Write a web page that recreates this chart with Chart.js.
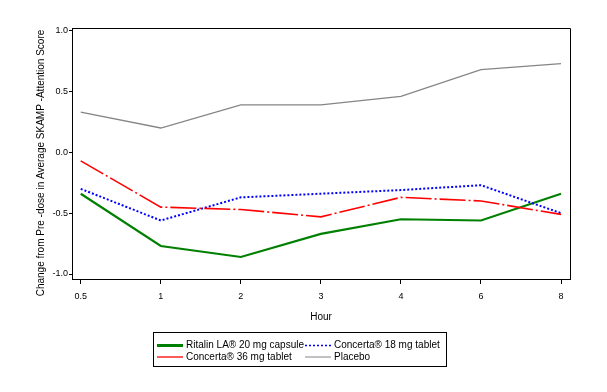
<!DOCTYPE html>
<html>
<head>
<meta charset="utf-8">
<script src="https://cdn.jsdelivr.net/npm/chart.js@4"></script>
<style>
  body { margin: 0; background: #fff; }
</style>
</head>
<body>
<canvas id="skampChart" width="607" height="392"></canvas>
<script>
// hours on the x axis (drawn evenly spaced)
const hours = ['0.5', '1', '2', '3', '4', '6', '8'];
const yTicks = [-1.0, -0.5, 0.0, 0.5, 1.0];

// change from pre-dose
const ritalin20 = [-0.34, -0.77, -0.86, -0.67, -0.55, -0.56, -0.34];
const concerta18 = [-0.30, -0.56, -0.37, -0.34, -0.31, -0.27, -0.50];
const concerta36 = [-0.07, -0.45, -0.47, -0.53, -0.37, -0.40, -0.51];
const placebo = [0.33, 0.20, 0.39, 0.39, 0.46, 0.68, 0.73];

const seriesNames = ['Ritalin LA\u00AE 20 mg capsule', 'Concerta\u00AE 18 mg tablet',
                     'Concerta\u00AE 36 mg tablet', 'Placebo'];
const yTitle = 'Change from Pre -dose in Average SKAMP -Attention Score';

const toPoints = arr => arr.map((v, i) => ({ x: i, y: v }));

const FONT = 'Liberation Sans, Arial, sans-serif';

// box round the plot, the y title (sits a bit low, like the original) and the legend box
const framePlugin = {
  id: 'frame',
  afterDraw(chart) {
    const { ctx, chartArea: a } = chart;
    ctx.save();
    ctx.strokeStyle = '#000';
    ctx.lineWidth = 1;
    ctx.beginPath();
    ctx.moveTo(a.left, a.top + 0.5);
    ctx.lineTo(a.right + 0.5, a.top + 0.5);
    ctx.lineTo(a.right + 0.5, a.bottom);
    ctx.stroke();

    // y axis title
    ctx.save();
    ctx.translate(41, 163);
    ctx.rotate(-Math.PI / 2);
    ctx.font = '10px ' + FONT;
    ctx.fillStyle = '#000';
    ctx.textAlign = 'center';
    ctx.textBaseline = 'middle';
    ctx.fillText(yTitle, 0, 0);
    ctx.restore();

    // legend
    ctx.strokeRect(153.5, 332.5, 293, 34);
    ctx.font = '10px ' + FONT;
    ctx.fillStyle = '#000';
    ctx.textBaseline = 'middle';
    const spots = [[157, 345.5], [305, 345.5], [157, 357], [305, 357]];
    const order = [3, 2, 1, 0]; // dataset index for each legend slot
    spots.forEach((p, k) => {
      const ds = chart.data.datasets[order[k]];
      ctx.save();
      ctx.strokeStyle = ds.borderColor;
      ctx.lineWidth = ds.legendWidth;
      ctx.setLineDash(ds.borderDash || []);
      ctx.beginPath();
      ctx.moveTo(p[0], p[1]);
      ctx.lineTo(p[0] + 26, p[1]);
      ctx.stroke();
      ctx.restore();
      ctx.fillText(ds.label, p[0] + 29, p[1]);
    });
    ctx.restore();
  }
};

const ctx = document.getElementById('skampChart').getContext('2d');

new Chart(ctx, {
  type: 'line',
  data: {
    datasets: [
      { label: seriesNames[3], data: toPoints(placebo), borderColor: '#858585',
        borderWidth: 1.3, legendWidth: 1 },
      { label: seriesNames[2], data: toPoints(concerta36), borderColor: '#ff0000',
        borderWidth: 1.6, borderDash: [26, 3, 2, 3], legendWidth: 1.3 },
      { label: seriesNames[1], data: toPoints(concerta18), borderColor: '#0000ff',
        borderWidth: 2, borderDash: [2, 2], legendWidth: 1.5 },
      { label: seriesNames[0], data: toPoints(ritalin20), borderColor: '#008000',
        borderWidth: 2.2, legendWidth: 3 }
    ]
  },
  options: {
    responsive: false,
    animation: false,
    layout: { padding: { left: 0, top: 28, right: 37, bottom: 0 } },
    elements: { point: { radius: 0 }, line: { tension: 0 } },
    plugins: { legend: { display: false }, tooltip: { enabled: false } },
    scales: {
      x: {
        type: 'linear',
        min: -0.109,
        max: 6.112,
        afterBuildTicks: s => { s.ticks = hours.map((h, i) => ({ value: i })); },
        afterFit: s => { s.height = 113; },
        ticks: {
          callback: v => hours[v],
          color: '#000',
          font: { family: FONT, size: 9 },
          padding: 7,
          maxRotation: 0
        },
        grid: { drawOnChartArea: false, drawTicks: true, tickLength: 5, color: '#000' },
        border: { display: true, color: '#000' },
        title: {
          display: true, text: 'Hour', color: '#000',
          font: { family: FONT, size: 10 },
          padding: { top: 0, bottom: 69 }
        }
      },
      y: {
        min: -1.041,
        max: 1.022,
        afterBuildTicks: s => { s.ticks = yTicks.map(v => ({ value: v })); },
        afterFit: s => { s.width = 72; },
        ticks: {
          callback: v => v.toFixed(1),
          color: '#000',
          font: { family: FONT, size: 9 },
          padding: 1
        },
        grid: { drawOnChartArea: false, drawTicks: true, tickLength: 3, color: '#000' },
        border: { display: true, color: '#000' },
        title: { display: false }
      }
    }
  },
  plugins: [framePlugin]
});
</script>
</body>
</html>
